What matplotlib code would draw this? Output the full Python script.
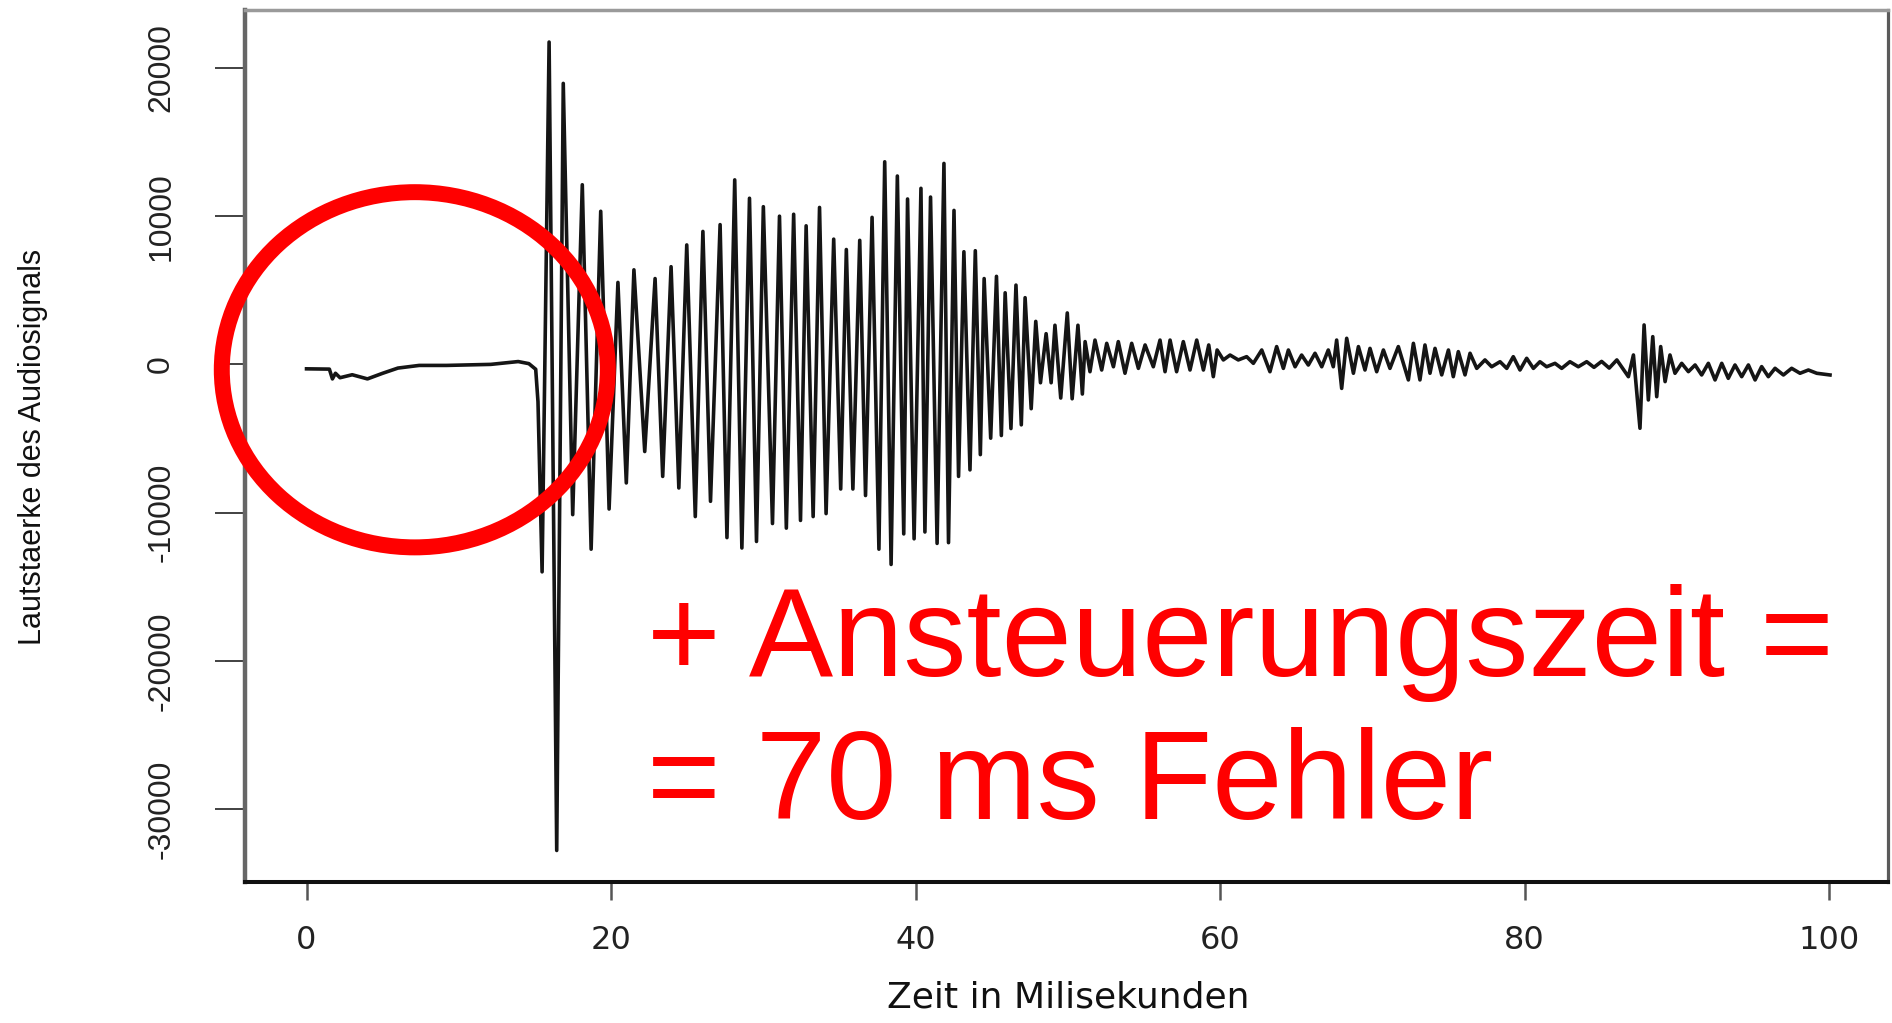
import matplotlib
matplotlib.use("Agg")
import numpy as np
import matplotlib.pyplot as plt
from matplotlib.patches import Ellipse
from matplotlib import font_manager


# ------------------------------------------------------------
# data (time in ms, amplitude in raw units)
# ------------------------------------------------------------

# quiet part before the tone starts
quiet_t = [0.0, 1.5, 1.7, 1.9, 2.2, 3.0, 4.0, 5.0, 6.0, 7.4, 9.2,
           12.1, 13.9, 14.6, 15.05, 15.2]
quiet_v = [-300, -320, -980, -600, -900, -700, -980, -600, -250, -70, -70,
           0, 190, 50, -330, -2520]

# main burst, alternating troughs / peaks
burst_t = [15.47, 15.93, 16.43, 16.86, 17.48, 18.11, 18.69, 19.32, 19.87, 20.45,
           21.00, 21.50, 22.21, 22.89, 23.39, 23.94, 24.45, 24.97, 25.53, 26.03,
           26.53, 27.16, 27.61, 28.12, 28.59, 29.09, 29.55, 30.00, 30.60, 31.06,
           31.51, 31.99, 32.44, 32.81, 33.27, 33.69, 34.12, 34.62, 35.08, 35.45,
           35.88, 36.33, 36.71, 37.14, 37.59, 37.97, 38.39, 38.80, 39.22, 39.47,
           39.90, 40.35, 40.61, 40.98, 41.41, 41.86, 42.16, 42.52, 42.82, 43.17,
           43.57, 43.92, 44.25, 44.50, 44.93, 45.31, 45.63, 45.88, 46.26, 46.59,
           46.94, 47.19, 47.59, 47.89, 48.20, 48.57, 48.90, 49.15, 49.53, 49.96,
           50.28, 50.66, 50.95]
burst_v = [-14000, 21750, -32800, 18960, -10140, 12120, -12470, 10330, -9760, 5530,
           -8000, 6380, -5880, 5790, -7560, 6590, -8340, 8060, -10270, 8970,
           -9240, 9430, -11690, 12450, -12390, 11210, -11950, 10640, -10740, 10000,
           -11050, 10130, -10530, 9350, -10270, 10590, -10070, 8450, -8410, 7750,
           -8410, 8370, -8850, 9920, -12470, 13670, -13500, 12710, -11440, 11160,
           -11770, 11880, -11310, 11290, -12080, 13560, -12030, 10390, -7560, 7600,
           -7120, 7670, -6090, 5790, -4980, 5940, -4800, 4830, -4330, 5350,
           -4080, 4500, -2990, 2900, -1240, 2070, -1240, 2640, -2270, 3470,
           -2320, 2640, -2000]

# decaying tail with the second click near 88 ms
tail_t = [51.13, 51.45, 51.78, 52.22, 52.55, 52.99, 53.31, 53.75, 54.19, 54.63,
          55.07, 55.61, 56.05, 56.38, 56.71, 57.14, 57.58, 58.02, 58.46, 58.90,
          59.25, 59.55, 59.80, 60.21, 60.65, 61.19, 61.74, 62.18, 62.73, 63.27,
          63.71, 64.15, 64.48, 64.92, 65.35, 65.79, 66.23, 66.67, 67.10, 67.43,
          67.65, 67.98, 68.31, 68.75, 69.08, 69.51, 69.84, 70.28, 70.72, 71.15,
          71.70, 72.36, 72.69, 73.12, 73.45, 73.78, 74.11, 74.55, 74.99, 75.31,
          75.64, 76.08, 76.41, 76.85, 77.39, 77.83, 78.38, 78.82, 79.25, 79.69,
          80.13, 80.57, 81.00, 81.44, 81.99, 82.43, 82.97, 83.52, 84.07, 84.55,
          85.05, 85.55, 86.05, 86.81, 87.14, 87.57, 87.84, 88.12, 88.41, 88.67,
          88.93, 89.22, 89.54, 89.87, 90.31, 90.75, 91.19, 91.62, 92.06, 92.50,
          92.94, 93.37, 93.81, 94.25, 94.69, 95.13, 95.56, 96.00, 96.44, 96.99,
          97.53, 98.08, 98.63, 99.18, 100.05]
tail_v = [1535, -495, 1640, -380, 1420, -160, 1535, -600, 1420, -270,
          1310, -160, 1640, -495, 1640, -495, 1535, -380, 1640, -380,
          1310, -830, 970, 300, 630, 300, 520, 70, 970, -495,
          1200, -270, 970, -160, 630, -45, 750, -160, 970, -160,
          1640, -1620, 1760, -600, 1200, -380, 1080, -495, 970, -270,
          1200, -1050, 1420, -1050, 1310, -600, 1080, -710, 970, -830,
          860, -710, 750, -270, 300, -160, 180, -270, 520, -380,
          410, -270, 180, -160, 70, -270, 180, -160, 180, -200,
          200, -250, 300, -830, 635, -4310, 2660, -2400, 1870, -2180,
          1200, -1165, 635, -600, 70, -490, -40, -715, 70, -1050,
          70, -940, -40, -830, -40, -1050, -150, -830, -265, -715,
          -265, -600, -380, -600, -715]

x_ticks = [0, 20, 40, 60, 80, 100]
y_ticks = [-30000, -20000, -10000, 0, 10000, 20000]

# red circle around the silent start (centre ms / amplitude, size)
circle_center = (7.11, -364)
circle_width_ms = 25.35
circle_height = 23968

note_line1 = "+ Ansteuerungszeit ="
note_line2 = "= 70 ms Fehler"


# ------------------------------------------------------------
# fonts
# ------------------------------------------------------------

installed = {f.name for f in font_manager.fontManager.ttflist}
if "Liberation Sans Narrow" in installed:
    narrow = "Liberation Sans Narrow"
    ytick_size = 27
    ylab_size = 27
else:
    narrow = "Liberation Sans"
    ytick_size = 23
    ylab_size = 22


# ------------------------------------------------------------
# plot
# ------------------------------------------------------------

t = np.concatenate([quiet_t, burst_t, tail_t])
v = np.concatenate([quiet_v, burst_v, tail_v])

fig = plt.figure(figsize=(18.92, 10.23), dpi=100)
ax = fig.add_axes([0.1295, 0.1378, 0.8684, 0.8521])

ax.plot(t, v, color="#151515", linewidth=2.6)

ax.set_xlim(-4.04, 103.86)
ax.set_ylim(-34930, 23890)

ax.set_xticks(x_ticks)
ax.set_xticklabels([str(x) for x in x_ticks], fontsize=23,
                   family="DejaVu Sans", color="#222222")
ax.set_yticks(y_ticks)
ax.set_yticklabels([str(y) for y in y_ticks], fontsize=ytick_size,
                   family=narrow, rotation=90, va="center", color="#222222")

ax.tick_params(axis="x", length=13, width=1.8, color="#555555", pad=18)
ax.tick_params(axis="y", length=21.6, width=1.3, color="#333333", pad=28)

ax.spines["left"].set_linewidth(3.2)
ax.spines["left"].set_color("#666666")
ax.spines["bottom"].set_linewidth(2.9)
ax.spines["bottom"].set_color("#111111")
ax.spines["top"].set_linewidth(2.5)
ax.spines["top"].set_color("#9a9a9a")
ax.spines["right"].set_linewidth(2.3)
ax.spines["right"].set_color("#5a5a5a")

ax.set_xlabel("Zeit in Milisekunden", fontsize=26, family="DejaVu Sans",
              color="#111111", va="top")
ax.xaxis.set_label_coords(0.5009, -0.1125)

ax.set_ylabel("Lautstaerke des Audiosignals", fontsize=ylab_size,
              family=narrow, color="#111111", va="center")
ax.yaxis.set_label_coords(-0.129, 0.4994)

ring = Ellipse(circle_center, width=circle_width_ms, height=circle_height,
               fill=False, edgecolor="#ff0000", linewidth=11.5,
               clip_on=False, zorder=5)
ax.add_patch(ring)

fig.text(0.342, 0.3392, note_line1, color="#ff0000", fontsize=91,
         family="Liberation Sans", ha="left", va="baseline")
fig.text(0.342, 0.1991, note_line2, color="#ff0000", fontsize=91,
         family="Liberation Sans", ha="left", va="baseline")

fig.savefig("out.png", dpi=100)
